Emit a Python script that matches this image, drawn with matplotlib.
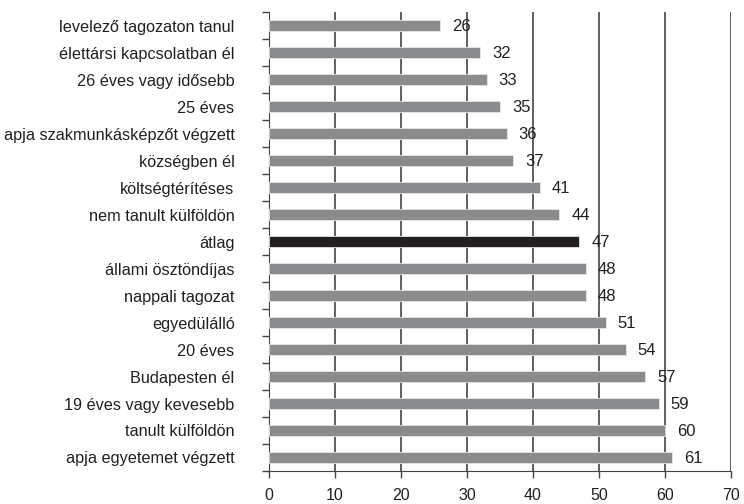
import numpy as np
import matplotlib.pyplot as plt

# categories from top to bottom
labels = ['levelező tagozaton tanul', 'élettársi kapcsolatban él', '26 éves vagy idősebb',
          '25 éves', 'apja szakmunkásképzőt végzett', 'községben él', 'költségtérítéses',
          'nem tanult külföldön', 'átlag', 'állami ösztöndíjas', 'nappali tagozat',
          'egyedülálló', '20 éves', 'Budapesten él', '19 éves vagy kevesebb',
          'tanult külföldön', 'apja egyetemet végzett']
values = [26, 32, 33, 35, 36, 37, 41, 44, 47, 48, 48, 51, 54, 57, 59, 60, 61]
x_ticks = [0, 10, 20, 30, 40, 50, 60, 70]

plt.rcParams['font.family'] = ['Liberation Sans', 'DejaVu Sans']

fig = plt.figure(figsize=(7.44, 5.04), dpi=100)
ax = fig.add_axes([0.361, 0.0655, 0.622, 0.9105])

y = np.arange(len(labels))
colors = ['#231f20' if l == 'átlag' else '#8a8b8d' for l in labels]
ax.barh(y, values, height=0.42, color=colors, edgecolor='#e6e6e6', linewidth=0.6, zorder=3)

for yi, v in zip(y, values):
    ax.text(v + 1.8, yi + 0.05, str(v), va='center', ha='left', fontsize=12,
            color='#231f20', zorder=4)

ax.set_xlim(0, 70)
ax.set_ylim(len(labels) - 0.5, -0.5)
ax.set_xticks(x_ticks)
ax.set_xticklabels([str(t) for t in x_ticks], fontsize=11.5, color='#231f20')
ax.tick_params(axis='x', length=5, width=1, color='#444444', pad=7)

ax.set_yticks(y)
ax.set_yticklabels(labels, fontsize=11.7, color='#231f20')
ax.tick_params(axis='y', which='major', length=0, pad=24.5)
ax.set_yticks(np.arange(len(labels) + 1) - 0.5, minor=True)
ax.tick_params(axis='y', which='minor', length=5, width=1, color='#444444')

ax.xaxis.grid(True, color='#444444', linewidth=1.2, zorder=0)
for s in ['top', 'right']:
    ax.spines[s].set_visible(False)
ax.spines['left'].set_color('#444444')
ax.spines['bottom'].set_color('#444444')

fig.savefig('out.png', dpi=100)
